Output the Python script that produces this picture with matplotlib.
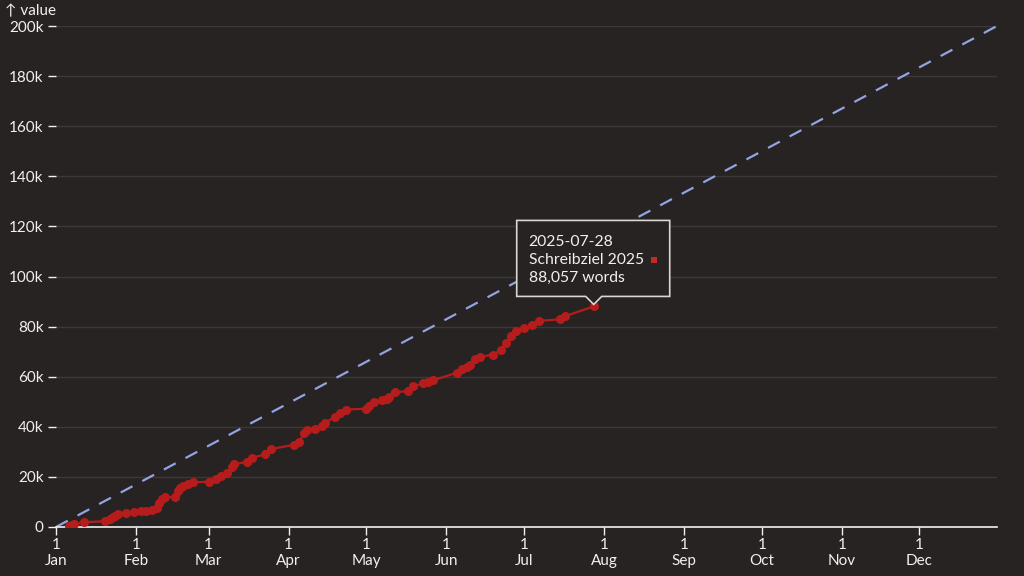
import matplotlib
matplotlib.use("Agg")
import matplotlib.pyplot as plt
import matplotlib.dates as mdates
from matplotlib.patches import Polygon, Rectangle
import numpy as np
import pandas as pd

plt.rcParams['font.family'] = ['Lato', 'DejaVu Sans']

# ---- data ----
dates = ['2025-01-06', '2025-01-07', '2025-01-08', '2025-01-12', '2025-01-20', '2025-01-22',
         '2025-01-23', '2025-01-24', '2025-01-25', '2025-01-28', '2025-01-31', '2025-02-03',
         '2025-02-05', '2025-02-07', '2025-02-09', '2025-02-10', '2025-02-11', '2025-02-12',
         '2025-02-16', '2025-02-17', '2025-02-18', '2025-02-19', '2025-02-21', '2025-02-23',
         '2025-03-01', '2025-03-04', '2025-03-06', '2025-03-08', '2025-03-10', '2025-03-11',
         '2025-03-16', '2025-03-18', '2025-03-23', '2025-03-25', '2025-04-03', '2025-04-05',
         '2025-04-07', '2025-04-08', '2025-04-11', '2025-04-14', '2025-04-15', '2025-04-19',
         '2025-04-21', '2025-04-23', '2025-05-01', '2025-05-02', '2025-05-04', '2025-05-07',
         '2025-05-09', '2025-05-10', '2025-05-12', '2025-05-17', '2025-05-19', '2025-05-23',
         '2025-05-25', '2025-05-27', '2025-06-05', '2025-06-07', '2025-06-09', '2025-06-10',
         '2025-06-12', '2025-06-14', '2025-06-19', '2025-06-22', '2025-06-24', '2025-06-26',
         '2025-06-28', '2025-07-01', '2025-07-04', '2025-07-07', '2025-07-15', '2025-07-17',
         '2025-07-28']
words = [200, 600, 1100, 1900, 2300, 3200,
         3800, 4500, 5000, 5400, 5900, 6200,
         6500, 6800, 7600, 9500, 11000, 11800,
         12000, 14300, 15500, 16400, 17300, 17800,
         18100, 19000, 20400, 21700, 24000, 25000,
         26100, 27700, 29000, 31100, 32800, 34000,
         37400, 38700, 39200, 40200, 41600, 44000,
         45500, 46900, 47200, 48300, 49800, 50600,
         51200, 51800, 53800, 54200, 56200, 57300,
         58000, 58600, 61600, 63100, 64000, 64500,
         67100, 67900, 68800, 70600, 73400, 76400,
         78300, 79300, 80600, 82300, 82900, 84200,
         88057]
goal_dates = ['2025-01-01', '2025-12-31']
goal_values = [0, 200000]
series_name = 'Schreibziel 2025'
y_ticks = [0, 20000, 40000, 60000, 80000, 100000, 120000, 140000, 160000, 180000, 200000]
y_tick_labels = ['0', '20k', '40k', '60k', '80k', '100k', '120k', '140k', '160k', '180k', '200k']
month_labels = ['Jan', 'Feb', 'Mar', 'Apr', 'May', 'Jun', 'Jul', 'Aug', 'Sep', 'Oct', 'Nov', 'Dec']
tooltip_index = len(words) - 1

# ---- style ----
BG = '#272322'
FG = '#f2f0ee'
GRID = '#3c3837'
RED = '#b71c1c'
GOAL = '#94a3e2'

x = pd.to_datetime(dates)
gx = pd.to_datetime(goal_dates)

fig = plt.figure(figsize=(10.24, 5.76), dpi=100, facecolor=BG)
ax = fig.add_axes([56 / 1024, 1 - 527 / 576, (997 - 56) / 1024, (527 - 26) / 576])
ax.set_facecolor(BG)

ax.set_xlim(pd.Timestamp('2025-01-01'), pd.Timestamp('2025-12-31'))
ax.set_ylim(0, 200000)

ax.set_yticks(y_ticks)
ax.set_yticklabels(y_tick_labels)
ax.yaxis.grid(True, color=GRID, linewidth=1)
ax.set_axisbelow(True)

month_starts = pd.date_range('2025-01-01', periods=12, freq='MS')
ax.set_xticks(month_starts)
ax.set_xticklabels(['1\n' + m for m in month_labels])

for s in ['top', 'right', 'left']:
    ax.spines[s].set_visible(False)
ax.spines['bottom'].set_color(FG)
ax.spines['bottom'].set_linewidth(1.2)

ax.tick_params(axis='y', colors=FG, labelsize=11, length=6, width=1, pad=3, labelcolor=FG)
ax.tick_params(axis='x', colors=FG, labelsize=11, length=6, width=1, pad=2, labelcolor=FG)
for lbl in ax.get_xticklabels():
    lbl.set_linespacing(1.2)

ax.plot(gx, goal_values, color=GOAL, linewidth=1.6, dashes=(6, 5), zorder=2)
ax.plot(x, words, color=RED, linewidth=1.6, marker='o', markersize=5.5, zorder=3)

fig.text(5 / 1024, 1 - 11 / 576, '↑ value', color=FG, fontsize=11, va='center', ha='left')

# ---- tooltip ----
fig.canvas.draw()
axp, ayp = ax.transData.transform((mdates.date2num(x[tooltip_index]), words[tooltip_index]))
left, right = axp - 77, axp + 76
bottom, top = ayp + 10, ayp + 86
verts = [(left, bottom), (axp - 8, bottom), (axp, ayp + 2), (axp + 8, bottom),
         (right, bottom), (right, top), (left, top)]
poly = Polygon(verts, closed=True, transform=None, facecolor=BG, edgecolor='#d9d6d4',
               linewidth=1.2, zorder=10)
fig.patches.append(poly)
poly.set_figure(fig)

val = words[tooltip_index]
lines = [x[tooltip_index].strftime('%Y-%m-%d'), series_name, f'{val:,} words']
for i, t in enumerate(lines):
    fig.text((left + 12) / 1024, (top - 22 - i * 17.5) / 576, t, color=FG,
             fontsize=11.3, va='center', ha='left', zorder=11)
sq = Rectangle((right - 19, top - 22 - 17.5 - 3), 6, 6, transform=None,
               facecolor='#c62828', edgecolor='none', zorder=11)
fig.patches.append(sq)
sq.set_figure(fig)

fig.savefig('out.png', dpi=100, facecolor=BG)
